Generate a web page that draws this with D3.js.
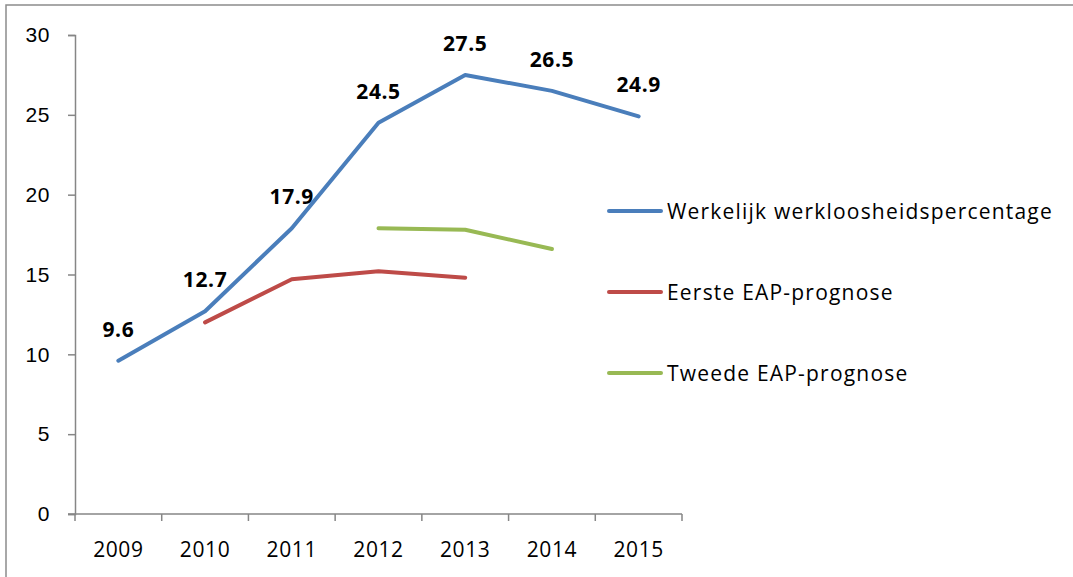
<!DOCTYPE html>
<html>
<head>
<meta charset="utf-8">
<script src="https://cdn.jsdelivr.net/npm/d3@7"></script>
<style>
  body { margin: 0; background: #fff; }
  svg { display: block; font-family: "Open Sans", "Liberation Sans", sans-serif; }
</style>
</head>
<body>
<svg id="chart" width="1073" height="577"></svg>
<script>
// categories & series
const years = ["2009", "2010", "2011", "2012", "2013", "2014", "2015"];
const werkelijk = [9.6, 12.7, 17.9, 24.5, 27.5, 26.5, 24.9];
const eerste = [null, 12.0, 14.7, 15.2, 14.8, null, null];
const tweede = [null, null, null, 17.9, 17.8, 16.6, null];
const yTicks = [0, 5, 10, 15, 20, 25, 30];

const seriesList = [
  { name: "Werkelijk werkloosheidspercentage", values: werkelijk, color: "#4A7EBB", labels: true },
  { name: "Eerste EAP-prognose", values: eerste, color: "#BE4B48", labels: false },
  { name: "Tweede EAP-prognose", values: tweede, color: "#98B954", labels: false },
];

const svg = d3.select("#chart");
const margin = { left: 75, right: 391, top: 35, bottom: 63 };
const width = 1073, height = 577;

// outer frame of the chart area
svg.append("rect")
  .attr("x", 6).attr("y", 5)
  .attr("width", 1100).attr("height", 600)
  .attr("fill", "none")
  .attr("stroke", "#8c8c8c")
  .attr("stroke-width", 1.5);

const x = d3.scaleBand()
  .domain(years)
  .range([margin.left, width - margin.right]);
const y = d3.scaleLinear()
  .domain([0, 30])
  .range([height - margin.bottom, margin.top]);

// y axis
const yAxis = svg.append("g")
  .attr("transform", `translate(${margin.left},0)`)
  .call(d3.axisLeft(y).tickValues(yTicks).tickSize(7).tickPadding(18));
yAxis.selectAll("text")
  .attr("font-size", 21)
  .attr("letter-spacing", 0.6)
  .attr("fill", "#000");

// x axis, ticks on band edges
const xAxisG = svg.append("g")
  .attr("transform", `translate(0,${y(0)})`);
xAxisG.append("line")
  .attr("x1", margin.left - 7).attr("x2", width - margin.right)
  .attr("stroke", "#868686").attr("stroke-width", 1.5);
const edges = years.map((d) => x(d)).concat([x(years[years.length - 1]) + x.bandwidth()]);
xAxisG.selectAll(".edge")
  .data(edges)
  .join("line")
  .attr("x1", (d) => d).attr("x2", (d) => d)
  .attr("y1", 0).attr("y2", 7)
  .attr("stroke", "#868686").attr("stroke-width", 1.5);
xAxisG.selectAll(".lbl")
  .data(years)
  .join("text")
  .attr("x", (d) => x(d) + x.bandwidth() / 2)
  .attr("y", 43)
  .attr("text-anchor", "middle")
  .attr("font-size", 21)
  .attr("letter-spacing", 0.6)
  .attr("fill", "#000")
  .text((d) => d);

yAxis.select(".domain").attr("stroke", "#868686").attr("stroke-width", 1.5);
yAxis.selectAll(".tick line").attr("stroke", "#868686").attr("stroke-width", 1.5);

// lines
const line = d3.line()
  .defined((d) => d.v !== null)
  .x((d) => x(d.year) + x.bandwidth() / 2)
  .y((d) => y(d.v));

seriesList.forEach((s) => {
  const pts = years.map((year, i) => ({ year, v: s.values[i] }));
  svg.append("path")
    .datum(pts)
    .attr("d", line)
    .attr("fill", "none")
    .attr("stroke", s.color)
    .attr("stroke-width", 4)
    .attr("stroke-linecap", "round")
    .attr("stroke-linejoin", "round");
  if (s.labels) {
    svg.selectAll(null)
      .data(pts.filter((d) => d.v !== null))
      .join("text")
      .attr("x", (d) => x(d.year) + x.bandwidth() / 2)
      .attr("y", (d) => y(d.v) - 24)
      .attr("text-anchor", "middle")
      .attr("font-size", 21)
      .attr("letter-spacing", 0.6)
      .attr("font-weight", "bold")
      .attr("fill", "#000")
      .text((d) => d.v.toFixed(1));
  }
});

// legend
const legend = svg.append("g").attr("transform", "translate(609,211)");
const items = legend.selectAll("g")
  .data(seriesList)
  .join("g")
  .attr("transform", (d, i) => `translate(0,${i * 81})`);
items.append("line")
  .attr("x1", 0).attr("x2", 52)
  .attr("stroke", (d) => d.color)
  .attr("stroke-width", 4)
  .attr("stroke-linecap", "round");
items.append("text")
  .attr("x", 58)
  .attr("y", 8)
  .attr("font-size", 21)
  .attr("letter-spacing", 1.2)
  .attr("fill", "#000")
  .text((d) => d.name);
</script>
</body>
</html>
